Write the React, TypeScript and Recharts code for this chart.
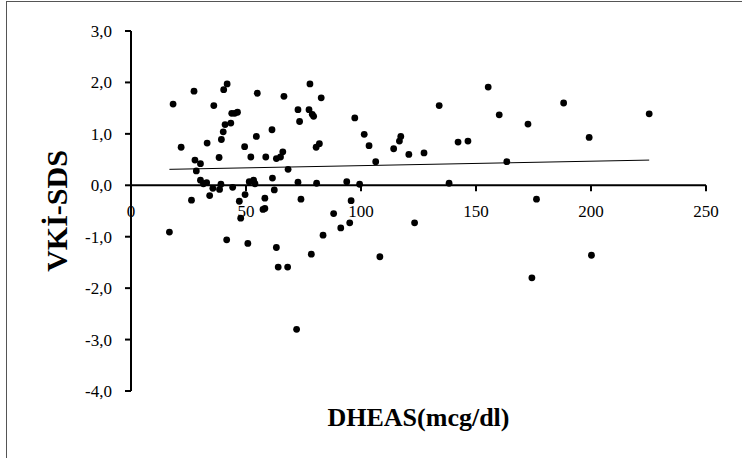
import { ScatterChart, Scatter, XAxis, YAxis, ReferenceLine } from 'recharts';

const FONT = "'Liberation Serif', 'Times New Roman', serif";

// DHEAS (mcg/dl)
const DHEAS = [
  16.7, 18.3, 21.8, 26.3, 27.4, 27.8, 28.4, 30.2, 30.2, 31.5,
  32.9, 33.1, 34.2, 35.6, 36.0, 38.3, 38.5, 39.1, 39.3, 40.1,
  40.3, 40.9, 41.6, 41.8, 43.4, 43.8, 44.2, 45.1, 46.3, 47.1,
  47.7, 49.4, 49.6, 50.8, 51.4, 52.1, 53.3, 53.9, 54.5, 54.9,
  57.4, 58.2, 58.2, 58.6, 61.3, 61.5, 62.3, 63.2, 63.2, 64.0,
  65.0, 66.0, 66.5, 68.1, 68.3, 72.0, 72.6, 72.6, 73.3, 73.9,
  77.4, 77.8, 78.4, 78.8, 79.4, 80.5, 80.7, 81.9, 82.7, 83.5,
  88.1, 91.2, 93.8, 95.1, 95.7, 97.3, 99.4, 101.4, 103.5, 106.4,
  108.2, 114.2, 116.7, 117.3, 120.8, 123.3, 127.4, 134.0, 138.3, 142.2,
  146.5, 155.3, 160.1, 163.4, 172.6, 174.3, 176.3, 188.1, 199.2, 200.2,
  225.3,
];

// VKİ-SDS
const VKI_SDS = [
  -0.91, 1.58, 0.74, -0.29, 1.83, 0.49, 0.28, 0.42, 0.10, 0.03,
  0.05, 0.82, -0.20, -0.06, 1.55, 0.54, -0.08, 0.02, 0.89, 1.04,
  1.86, 1.18, -1.06, 1.97, 1.21, 1.40, -0.04, 1.40, 1.42, -0.31,
  -0.64, 0.75, -0.18, -1.13, 0.07, 0.55, 0.10, 0.03, 0.95, 1.79,
  -0.47, -0.45, -0.25, 0.55, 1.08, 0.14, -0.09, 0.52, -1.21, -1.59,
  0.55, 0.65, 1.73, -1.59, 0.31, -2.80, 1.47, 0.06, 1.24, -0.27,
  1.47, 1.97, -1.34, 1.38, 1.34, 0.74, 0.04, 0.81, 1.70, -0.97,
  -0.55, -0.83, 0.07, -0.73, -0.30, 1.31, 0.02, 0.99, 0.77, 0.46,
  -1.39, 0.71, 0.86, 0.95, 0.60, -0.73, 0.63, 1.55, 0.04, 0.84,
  0.86, 1.91, 1.37, 0.46, 1.19, -1.80, -0.27, 1.60, 0.93, -1.36,
  1.39,
];

const TREND_X = [16.7, 225.3];
const TREND_Y = [0.31, 0.49];

const X_TICKS = [0, 50, 100, 150, 200, 250];
const Y_TICKS = [-4, -3, -2, -1, 0, 1, 2, 3];

const points = DHEAS.map((x, i) => ({ x, y: VKI_SDS[i] }));
const trend = TREND_X.map((x, i) => ({ x, y: TREND_Y[i] }));

const W = 742;
const H = 458;
const MARGIN = { top: 31, right: 36, bottom: 66, left: 0 };
const X_AXIS_H = 1;
const Y_MIN = -4;
const Y_MAX = 3;
const PLOT_H = H - MARGIN.top - MARGIN.bottom - X_AXIS_H;
// distance from the bottom of the plot up to y = 0, where the x axis crosses
const ZERO_UP = (PLOT_H * (0 - Y_MIN)) / (Y_MAX - Y_MIN);

const tickStyle = { fontSize: 17, fontFamily: FONT, fill: '#000' };

function XTick(props: any) {
  const { x, y, payload } = props;
  const y0 = y - ZERO_UP;
  return (
    <g>
      <line x1={x} y1={y0} x2={x} y2={y0 + 6} stroke="#000" strokeWidth={2} />
      <text x={x} y={y0 + 32} textAnchor="middle" style={tickStyle}>
        {payload.value}
      </text>
    </g>
  );
}

function YTick(props: any) {
  const { x, y, payload } = props;
  return (
    <text x={x} y={y} dy={6} textAnchor="end" style={tickStyle}>
      {payload.value.toFixed(1).replace('.', ',')}
    </text>
  );
}

const dot = (p: any) => <circle cx={p.cx} cy={p.cy} r={3.4} fill="#000" />;

export default function App() {
  return (
    <div style={{ position: 'fixed', left: 0, top: 0, width: W, height: H, overflow: 'hidden', background: '#fff', fontFamily: FONT }}>
      <div style={{ position: 'absolute', left: 6, top: 1, width: 800, height: 500, border: '1px solid #555' }} />
      <div style={{ position: 'absolute', left: 0, top: 0 }}>
        <ScatterChart width={W} height={H} margin={MARGIN}>
          <XAxis
            type="number"
            dataKey="x"
            domain={[0, 250]}
            ticks={X_TICKS}
            height={X_AXIS_H}
            axisLine={false}
            tickLine={false}
            tickSize={0}
            tickMargin={0}
            tick={<XTick />}
            interval={0}
            label={{
              value: 'DHEAS(mcg/dl)',
              position: 'bottom',
              offset: 16,
              style: { fontSize: 26, fontWeight: 'bold', fontFamily: FONT, fill: '#000' },
            }}
          />
          <YAxis
            type="number"
            dataKey="y"
            domain={[Y_MIN, Y_MAX]}
            ticks={Y_TICKS}
            width={131}
            interval={0}
            tick={<YTick />}
            axisLine={{ stroke: '#000', strokeWidth: 2 }}
            tickLine={{ stroke: '#000', strokeWidth: 2 }}
            tickSize={6}
            tickMargin={13}
            label={{
              value: 'VKİ-SDS',
              angle: -90,
              position: 'insideLeft',
              offset: 56,
              style: { textAnchor: 'middle', fontSize: 30, fontWeight: 'bold', fontFamily: FONT, fill: '#000' },
            }}
          />
          <ReferenceLine y={0} stroke="#000" strokeWidth={2} />
          <Scatter data={trend} line={{ stroke: '#000', strokeWidth: 1 }} shape={() => <g />} isAnimationActive={false} />
          <Scatter data={points} shape={dot} isAnimationActive={false} />
        </ScatterChart>
      </div>
    </div>
  );
}
